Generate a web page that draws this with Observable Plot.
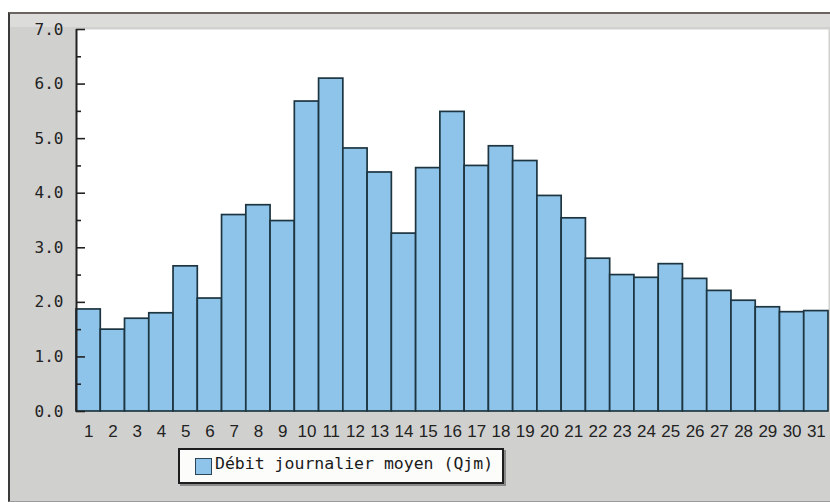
<!DOCTYPE html>
<html>
<head>
<meta charset="utf-8">
<script src="https://cdn.jsdelivr.net/npm/d3@7"></script>
<script src="https://cdn.jsdelivr.net/npm/@observablehq/plot@0.6"></script>
<style>
  html, body { margin: 0; padding: 0; background: #ffffff; }
  #wrap { position: relative; width: 830px; height: 502px; overflow: hidden; }
  #panel { position: absolute; left: 8px; top: 12px; width: 830px; height: 487px;
           background: #d0d0cf; border-left: 2px solid #3a3a3a; border-top: 2px solid #6a6560;
           border-bottom: 1px solid #9a9a9a; }
  #strip { position: absolute; left: 10px; top: 14px; width: 830px; height: 13px; background: #dcdcdb; }
  #chart { position: absolute; left: 0; top: 0; }
  #legend { position: absolute; left: 178px; top: 448px; width: 322px; height: 32px;
            background: #fcfcfa; border: 2px solid #1e1e1e; box-shadow: 2px 2px 0 #8a8a8a; }
  #swatch { position: absolute; left: 15px; top: 8px; width: 15px; height: 15px;
            background: #8ec4e9; border: 1px solid #2a4656; }
  #ltext { position: absolute; left: 35px; top: 4px; font-family: "DejaVu Sans Mono", monospace;
           font-size: 16.5px; color: #1a1a1a; white-space: nowrap; }
</style>
</head>
<body>
<div id="wrap">
  <div id="panel"></div>
  <div id="strip"></div>
  <div id="chart"></div>
  <div id="legend"><div id="swatch"></div><div id="ltext"></div></div>
</div>
<script>
// Data
const days = [1,2,3,4,5,6,7,8,9,10,11,12,13,14,15,16,17,18,19,20,21,22,23,24,25,26,27,28,29,30,31];
const qjm = [1.87,1.50,1.70,1.80,2.66,2.07,3.60,3.78,3.49,5.68,6.10,4.82,4.38,3.26,4.46,5.49,4.50,4.86,4.59,3.95,3.54,2.80,2.50,2.45,2.70,2.43,2.21,2.03,1.91,1.82,1.84];
const yMajor = [0,1,2,3,4,5,6,7];
const yMinor = [0.5,1.5,2.5,3.5,4.5,5.5,6.5];
const seriesName = "Débit journalier moyen (Qjm)";

const data = days.map((d, i) => ({day: d, q: qjm[i]}));

const W = 830, H = 502, ML = 76, MR = 2;
const bw = (W - ML - MR) / days.length;  // band width in px

const chart = Plot.plot({
  width: W,
  height: H,
  marginLeft: ML,
  marginRight: MR,
  marginTop: 29,
  marginBottom: 91,
  style: {background: "transparent", overflow: "visible"},
  x: {type: "band", domain: days, padding: 0, round: false},
  y: {domain: [0, 7]},
  marks: [
    Plot.frame({fill: "white", stroke: null}),
    Plot.barY(data, {x: "day", y: "q", fill: "#8ec4e9", stroke: "#1d3540", strokeWidth: 1.7, inset: 0}),
    Plot.axisX({tickSize: 0, tickPadding: 13, fontSize: 17, fontFamily: "Liberation Sans, Arial, sans-serif", color: "#222", label: null}),
    Plot.axisY(yMajor, {tickSize: 0, tickPadding: 13, tickFormat: d3.format(".1f"), fontSize: 16, fontFamily: "DejaVu Sans Mono, monospace", color: "#222", label: null}),
    // inward ticks
    Plot.tickY(yMajor, {x: () => days[0], y: d => d, stroke: "#222", strokeWidth: 1.6, insetRight: bw - 9}),
    Plot.tickY(yMinor, {x: () => days[0], y: d => d, stroke: "#222", strokeWidth: 1.6, insetRight: bw - 5}),
    // left axis line
    Plot.ruleX([days[0]], {x: d => d, y1: 0, y2: 7, dx: -bw / 2, stroke: "#222", strokeWidth: 2})
  ]
});
document.getElementById("chart").appendChild(chart);
document.getElementById("ltext").textContent = seriesName;
</script>
</body>
</html>
